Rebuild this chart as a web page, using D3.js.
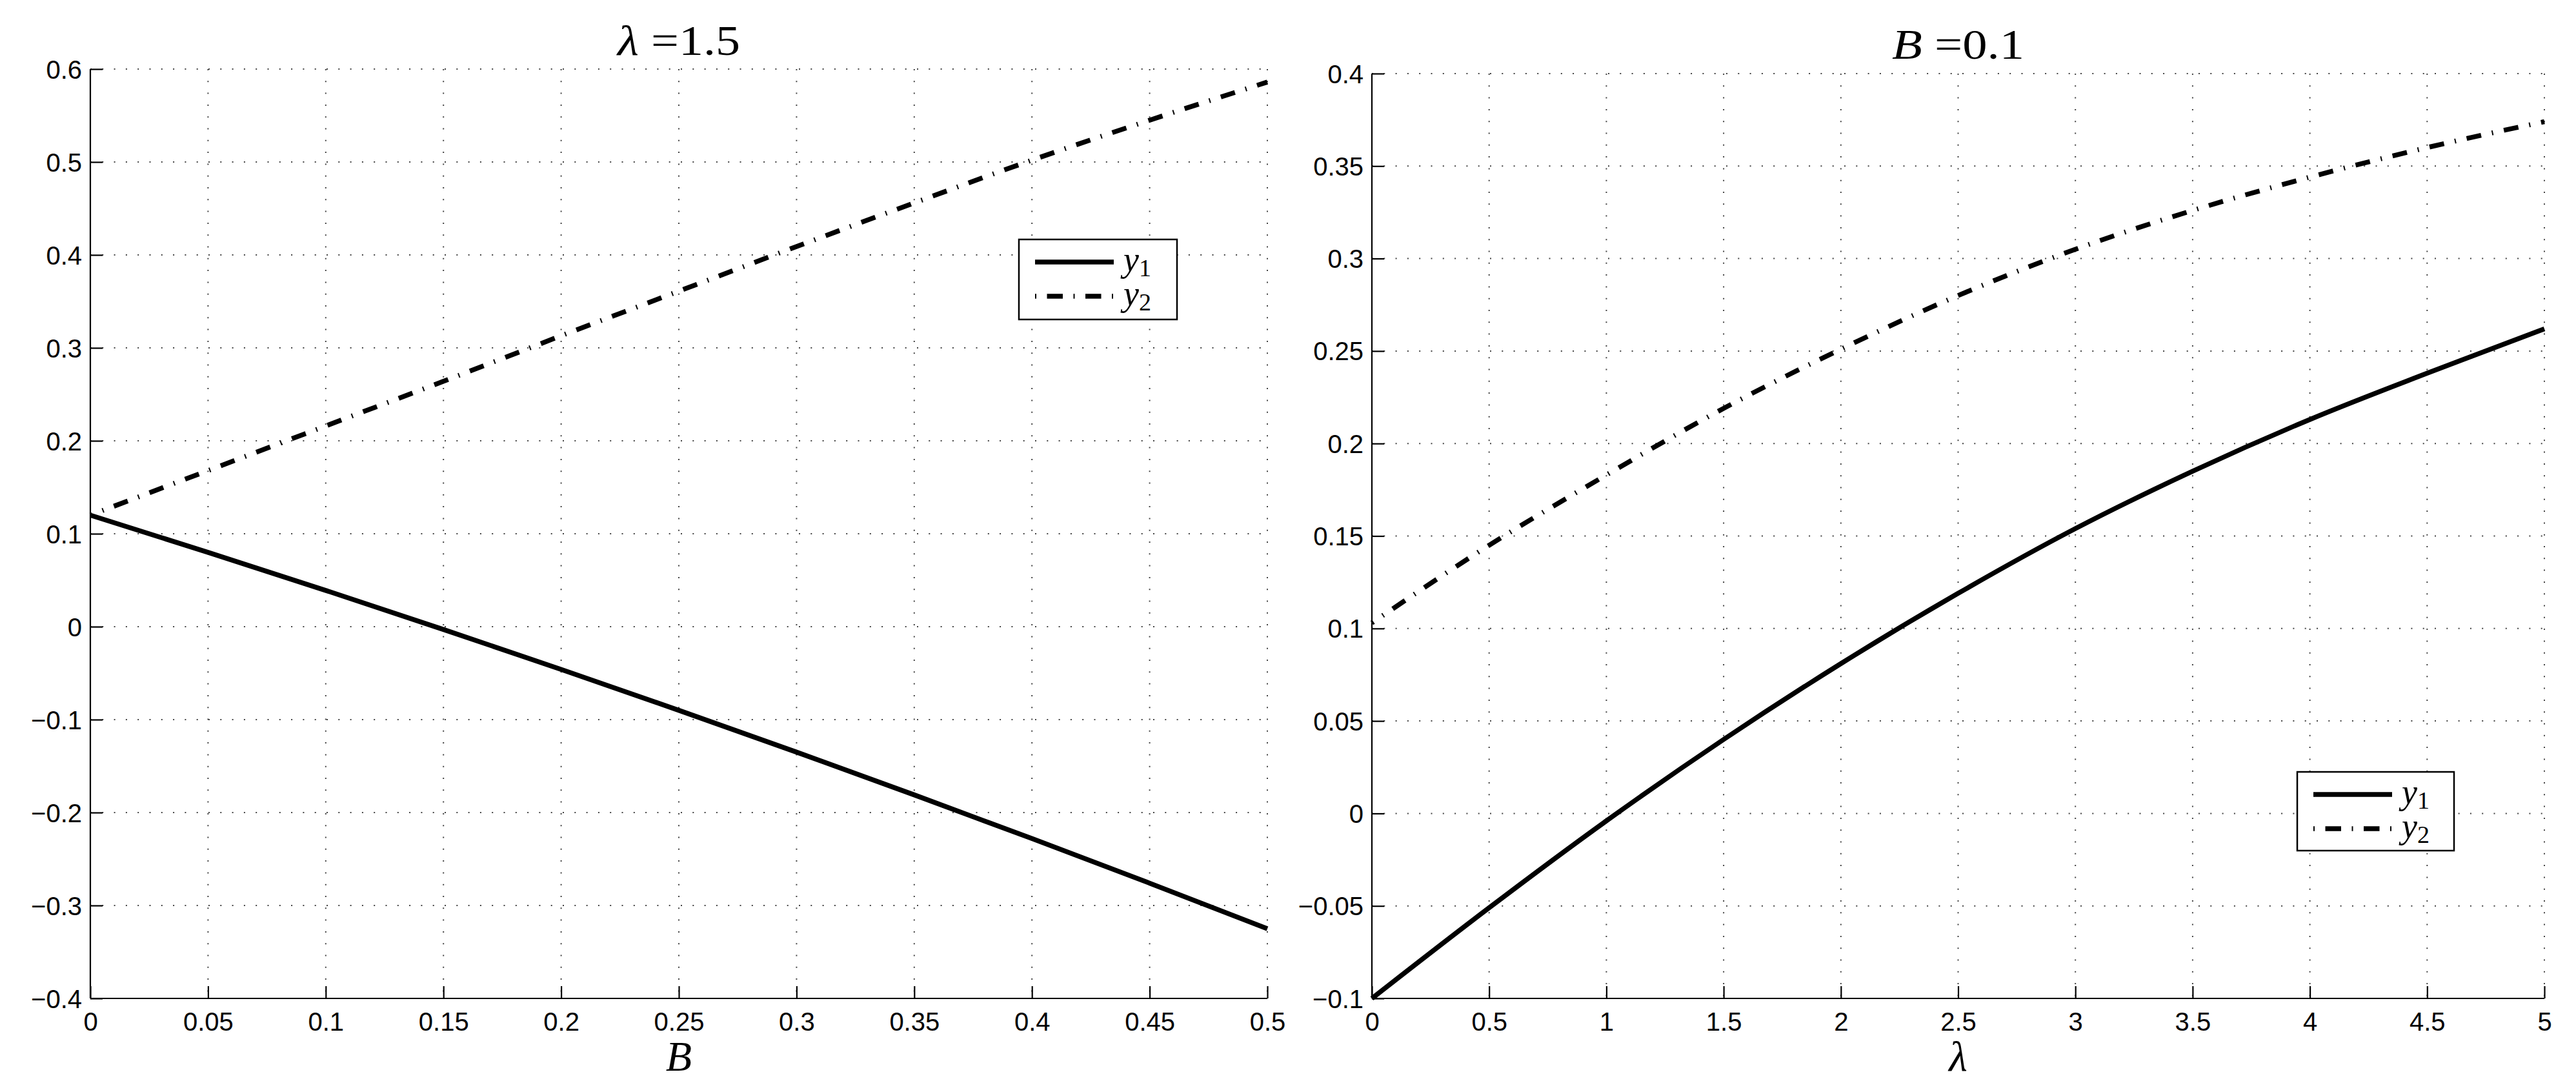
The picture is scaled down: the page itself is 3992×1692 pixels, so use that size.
<!DOCTYPE html>
<html><head><meta charset="utf-8">
<script src="https://cdn.jsdelivr.net/npm/d3@7"></script>
<style>html,body{margin:0;padding:0;background:#fff;}</style>
</head><body>
<svg id="chart" width="3992" height="1692"></svg>
<script>
// ---- Data ----
const leftB = [0, 0.05, 0.1, 0.15, 0.2, 0.25, 0.3, 0.35, 0.4, 0.45, 0.5];
const leftY1 = [0.120, 0.080, 0.039, -0.003, -0.046, -0.090, -0.135, -0.181, -0.228, -0.276, -0.325];
const leftY2 = [0.120, 0.168, 0.216, 0.264, 0.313, 0.361, 0.409, 0.456, 0.502, 0.545, 0.586];
const rightLam = [0, 0.5, 1, 1.5, 2, 2.5, 3, 3.5, 4, 4.5, 5];
const rightY1 = [-0.100, -0.051, -0.004, 0.040, 0.081, 0.119, 0.154, 0.185, 0.213, 0.238, 0.262];
const rightY2 = [0.103, 0.145, 0.183, 0.219, 0.251, 0.280, 0.305, 0.326, 0.344, 0.360, 0.374];
const leftXTicks = [0, 0.05, 0.1, 0.15, 0.2, 0.25, 0.3, 0.35, 0.4, 0.45, 0.5];
const leftYTicks = [-0.4, -0.3, -0.2, -0.1, 0, 0.1, 0.2, 0.3, 0.4, 0.5, 0.6];
const rightXTicks = [0, 0.5, 1, 1.5, 2, 2.5, 3, 3.5, 4, 4.5, 5];
const rightYTicks = [-0.1, -0.05, 0, 0.05, 0.1, 0.15, 0.2, 0.25, 0.3, 0.35, 0.4];
const seriesNames = ["1", "2"];

const svg = d3.select("#chart");
const DASH = "23,17,2,17";
const fmt = v => String(+v.toFixed(4)).replace("-", "\u2212");

function panel(cfg) {
  const x = d3.scaleLinear().domain(cfg.xDomain).range([cfg.x0, cfg.x1]);
  const y = d3.scaleLinear().domain(cfg.yDomain).range([cfg.y0, cfg.y1]);
  const g = svg.append("g");

  // grid
  const grid = g.append("g").attr("stroke", "#444").attr("stroke-width", 2)
    .attr("stroke-dasharray", "2,16.3").attr("fill", "none");
  cfg.xTicks.slice(1).forEach(t => {
    grid.append("line").attr("x1", x(t)).attr("x2", x(t)).attr("y1", cfg.y1).attr("y2", cfg.y0);
  });
  cfg.yTicks.slice(1).forEach(t => {
    grid.append("line").attr("x1", cfg.x0).attr("x2", cfg.x1).attr("y1", y(t)).attr("y2", y(t));
  });

  // axes
  const ax = d3.axisBottom(x).tickValues(cfg.xTicks).tickSize(-19).tickPadding(22).tickFormat(fmt);
  const ay = d3.axisLeft(y).tickValues(cfg.yTicks).tickSize(-19).tickPadding(13).tickFormat(fmt);
  const gx = g.append("g").attr("transform", `translate(0,${cfg.y0})`).call(ax);
  const gy = g.append("g").attr("transform", `translate(${cfg.x0},0)`).call(ay);
  [gx, gy].forEach(a => {
    a.select(".domain").attr("stroke", "#000").attr("stroke-width", 2.2);
    a.selectAll(".tick line").attr("stroke", "#000").attr("stroke-width", 2.2);
    a.selectAll("text").attr("font-family", "'Liberation Sans', Arial, sans-serif")
      .attr("font-size", 40).attr("fill", "#000");
  });
  gx.selectAll("text").attr("dy", "0.71em");
  gy.selectAll("text").attr("dy", "0.35em");
  gx.select(".domain").attr("d", `M${cfg.x0},0H${cfg.x1}`);
  gy.select(".domain").attr("d", `M0,${cfg.y0}V${cfg.y1}`);

  // lines
  const line = d3.line().x(d => x(d[0])).y(d => y(d[1])).curve(d3.curveMonotoneX);
  g.append("path").datum(cfg.xs.map((v, i) => [v, cfg.s1[i]]))
    .attr("d", line).attr("fill", "none").attr("stroke", "#000").attr("stroke-width", 7.5);
  g.append("path").datum(cfg.xs.map((v, i) => [v, cfg.s2[i]]))
    .attr("d", line).attr("fill", "none").attr("stroke", "#000").attr("stroke-width", 7.5)
    .attr("stroke-dasharray", DASH).attr("stroke-dashoffset", 20);

  // title
  const cx = (cfg.x0 + cfg.x1) / 2;
  const tt = g.append("text").attr("x", cx).attr("y", cfg.titleY).attr("text-anchor", "middle")
    .attr("font-family", "'Liberation Serif', 'Times New Roman', serif").attr("font-size", 66).attr("fill", "#000")
    .attr("textLength", cfg.titleW).attr("lengthAdjust", "spacingAndGlyphs");
  tt.append("tspan").attr("font-style", "italic").text(cfg.titleVar);
  tt.append("tspan").text(" =" + cfg.titleVal);

  // x label
  g.append("text").attr("x", cx).attr("y", 1659).attr("text-anchor", "middle")
    .attr("font-family", "'Liberation Serif', 'Times New Roman', serif").attr("font-size", 66)
    .attr("font-style", "italic").attr("fill", "#000").text(cfg.xLabel);

  // legend
  const L = cfg.legend;
  const lg = g.append("g");
  lg.append("rect").attr("x", L.x).attr("y", L.y).attr("width", L.w).attr("height", L.h)
    .attr("fill", "#fff").attr("stroke", "#000").attr("stroke-width", 2.5);
  seriesNames.forEach((n, i) => {
    const yy = L.y + 35 + i * 53;
    const ln = lg.append("line").attr("x1", L.x + 25).attr("x2", L.x + 147).attr("y1", yy).attr("y2", yy)
      .attr("stroke", "#000").attr("stroke-width", 7.5);
    if (i === 1) ln.attr("stroke-dasharray", "2,16.5,24.5,16.5");
    const t = lg.append("text").attr("x", L.x + 162).attr("y", yy + 14)
      .attr("font-family", "'Liberation Serif', 'Times New Roman', serif").attr("font-size", 54).attr("fill", "#000");
    t.append("tspan").attr("font-style", "italic").text("y");
    t.append("tspan").attr("font-size", 38).attr("dy", 8).text(n);
  });
}

panel({
  xDomain: [0, 0.5], yDomain: [-0.4, 0.6], x0: 140, x1: 1964, y0: 1547, y1: 107,
  xTicks: leftXTicks, yTicks: leftYTicks, xs: leftB, s1: leftY1, s2: leftY2,
  titleVar: "\u03bb", titleVal: "1.5", titleY: 85, titleW: 190, xLabel: "B",
  legend: { x: 1579, y: 371, w: 245, h: 124 }
});
panel({
  xDomain: [0, 5], yDomain: [-0.1, 0.4], x0: 2126, x1: 3943, y0: 1547, y1: 114,
  xTicks: rightXTicks, yTicks: rightYTicks, xs: rightLam, s1: rightY1, s2: rightY2,
  titleVar: "B", titleVal: "0.1", titleY: 91, titleW: 205, xLabel: "\u03bb",
  legend: { x: 3560, y: 1196, w: 243, h: 122 }
});
</script>
</body></html>
